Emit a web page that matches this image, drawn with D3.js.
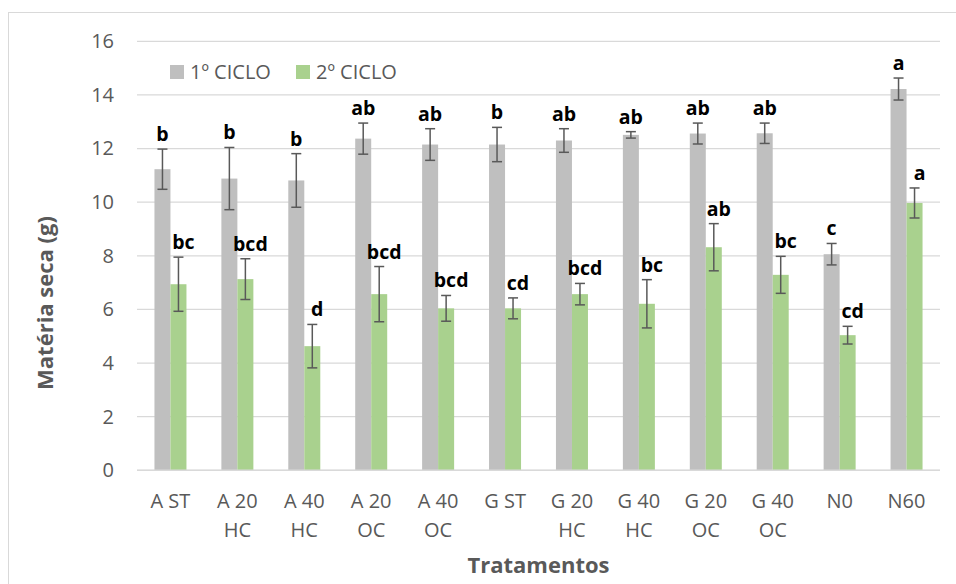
<!DOCTYPE html>
<html>
<head>
<meta charset="utf-8">
<script src="https://cdn.jsdelivr.net/npm/d3@7"></script>
<style>
  body { margin: 0; background: #fff; }
  svg { display: block; }
</style>
</head>
<body>
<svg id="chart"></svg>
<script>
const categories = [
    ["A ST"], ["A 20", "HC"], ["A 40", "HC"], ["A 20", "OC"], ["A 40", "OC"],
    ["G ST"], ["G 20", "HC"], ["G 40", "HC"], ["G 20", "OC"], ["G 40", "OC"],
    ["N0"], ["N60"]
];
const seriesNames = ["1º CICLO", "2º CICLO"];
const ciclo1 = [11.23, 10.88, 10.81, 12.37, 12.15, 12.15, 12.30, 12.51, 12.56, 12.57, 8.06, 14.22];
const ciclo1Err = [0.75, 1.16, 1.00, 0.58, 0.59, 0.64, 0.44, 0.12, 0.39, 0.38, 0.40, 0.41];
const ciclo1Letters = ["b", "b", "b", "ab", "ab", "b", "ab", "ab", "ab", "ab", "c", "a"];
const ciclo2 = [6.94, 7.13, 4.63, 6.57, 6.04, 6.04, 6.57, 6.21, 8.32, 7.29, 5.04, 9.97];
const ciclo2Err = [1.01, 0.76, 0.81, 1.03, 0.48, 0.39, 0.40, 0.90, 0.88, 0.69, 0.33, 0.56];
const ciclo2Letters = ["bc", "bcd", "d", "bcd", "bcd", "cd", "bcd", "bc", "ab", "bc", "cd", "a"];
const yTicks = [0, 2, 4, 6, 8, 10, 12, 14, 16];

const width = 956;
const height = 584;
const margin = { left: 137, right: 16, top: 41.3, bottom: 113.7 };
const colors = ["#bfbfbf", "#a9d18e"];
const font = "'Open Sans', sans-serif";

const svg = d3.select("#chart")
    .attr("width", width)
    .attr("height", height);

// outer chart frame
svg.append("rect")
    .attr("x", 8.5).attr("y", 12.5)
    .attr("width", width).attr("height", height)
    .attr("fill", "none")
    .attr("stroke", "#d9d9d9");

const keys = categories.map(c => c.join(" "));

const xScale = d3.scaleBand()
    .domain(keys)
    .range([margin.left, width - margin.right]);

const bw = xScale.bandwidth();
const xSub = d3.scaleBand()
    .domain(seriesNames)
    .range([bw / 2 - 16, bw / 2 + 16]);

const yScale = d3.scaleLinear()
    .domain([0, 16])
    .range([height - margin.bottom, margin.top]);

// gridlines
svg.append("g")
    .selectAll("line")
    .data(yTicks)
    .join("line")
    .attr("x1", margin.left)
    .attr("x2", width - margin.right)
    .attr("y1", d => yScale(d))
    .attr("y2", d => yScale(d))
    .attr("stroke", "#d9d9d9")
    .attr("stroke-width", 1.3);

// y axis labels
const yAxis = d3.axisLeft(yScale).tickValues(yTicks).tickSize(0).tickPadding(23);
svg.append("g")
    .attr("transform", `translate(${margin.left}, 0)`)
    .call(yAxis)
    .call(g => g.select(".domain").remove())
    .selectAll("text")
    .attr("font-family", font)
    .attr("font-size", 20)
    .attr("fill", "#595959");

// x axis labels (two lines)
const xLabels = svg.append("g")
    .selectAll("text")
    .data(categories)
    .join("text")
    .attr("x", (d, i) => xScale(keys[i]) + bw / 2)
    .attr("y", 508)
    .attr("text-anchor", "middle")
    .attr("font-family", font)
    .attr("font-size", 20)
    .attr("fill", "#595959");

xLabels.selectAll("tspan")
    .data(d => d)
    .join("tspan")
    .attr("x", function () { return d3.select(this.parentNode).attr("x"); })
    .attr("dy", (d, i) => i === 0 ? 0 : 29)
    .text(d => d);

const series = [
    { name: seriesNames[0], values: ciclo1, errs: ciclo1Err, letters: ciclo1Letters, color: colors[0] },
    { name: seriesNames[1], values: ciclo2, errs: ciclo2Err, letters: ciclo2Letters, color: colors[1] }
];

series.forEach(s => {
    const g = svg.append("g");
    const cx = i => xScale(keys[i]) + xSub(s.name) + xSub.bandwidth() / 2;

    g.selectAll("rect")
        .data(s.values)
        .join("rect")
        .attr("x", (d, i) => xScale(keys[i]) + xSub(s.name))
        .attr("y", d => yScale(d))
        .attr("width", xSub.bandwidth())
        .attr("height", d => yScale(0) - yScale(d))
        .attr("fill", s.color);

    // error bars
    const eb = g.selectAll(".err")
        .data(s.values)
        .join("g")
        .attr("class", "err")
        .attr("stroke", "#595959")
        .attr("stroke-width", 1.5);

    eb.append("line")
        .attr("x1", (d, i) => cx(i)).attr("x2", (d, i) => cx(i))
        .attr("y1", (d, i) => yScale(d + s.errs[i]))
        .attr("y2", (d, i) => yScale(d - s.errs[i]));
    eb.append("line")
        .attr("x1", (d, i) => cx(i) - 5).attr("x2", (d, i) => cx(i) + 5)
        .attr("y1", (d, i) => yScale(d + s.errs[i]))
        .attr("y2", (d, i) => yScale(d + s.errs[i]));
    eb.append("line")
        .attr("x1", (d, i) => cx(i) - 5).attr("x2", (d, i) => cx(i) + 5)
        .attr("y1", (d, i) => yScale(d - s.errs[i]))
        .attr("y2", (d, i) => yScale(d - s.errs[i]));

    // significance letters
    g.selectAll(".letter")
        .data(s.letters)
        .join("text")
        .attr("class", "letter")
        .attr("x", (d, i) => cx(i) + (s.name === seriesNames[1] ? 5 : 0))
        .attr("y", (d, i) => yScale(s.values[i] + s.errs[i]) - 8)
        .attr("text-anchor", "middle")
        .attr("font-family", font)
        .attr("font-weight", "bold")
        .attr("font-size", 19.5)
        .attr("fill", "#000")
        .text(d => d);
});

// x baseline
svg.append("line")
    .attr("x1", margin.left).attr("x2", width - margin.right)
    .attr("y1", yScale(0)).attr("y2", yScale(0))
    .attr("stroke", "#d9d9d9")
    .attr("stroke-width", 1.5);

// legend
const legend = svg.append("g").attr("transform", "translate(170, 65)");
const legendItems = legend.selectAll("g")
    .data(seriesNames)
    .join("g")
    .attr("transform", (d, i) => `translate(${i * 126}, 0)`);
legendItems.append("rect")
    .attr("width", 14).attr("height", 14)
    .attr("fill", (d, i) => colors[i]);
legendItems.append("text")
    .attr("x", 20).attr("y", 14)
    .attr("font-family", font)
    .attr("font-size", 20)
    .attr("fill", "#595959")
    .text(d => d);

// axis titles
svg.append("text")
    .attr("transform", "translate(53, 303) rotate(-90)")
    .attr("text-anchor", "middle")
    .attr("font-family", font)
    .attr("font-weight", "bold")
    .attr("font-size", 22)
    .attr("fill", "#595959")
    .text("Matéria seca (g)");

svg.append("text")
    .attr("x", (margin.left + width - margin.right) / 2)
    .attr("y", 573)
    .attr("text-anchor", "middle")
    .attr("font-family", font)
    .attr("font-weight", "bold")
    .attr("font-size", 22)
    .attr("fill", "#595959")
    .text("Tratamentos");
</script>
</body>
</html>
